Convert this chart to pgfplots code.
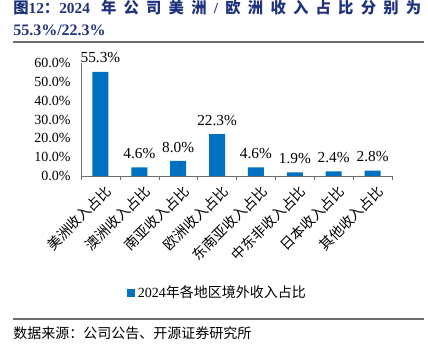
\documentclass[border=0pt]{standalone}
\usepackage{fontspec}
\setmainfont{Liberation Serif}
\newfontfamily\cjk{Noto Sans CJK SC}
\usepackage{pgfplots}
\pgfplotsset{compat=1.18}
\definecolor{barblue}{HTML}{0070C0}
\definecolor{titleblue}{RGB}{30,50,125}
\definecolor{axgray}{RGB}{110,110,110}
\newcommand{\cb}[1]{{\cjk\bfseries #1}}
\begin{document}
\begin{tikzpicture}
\path[use as bounding box] (0,0) rectangle (321pt,263.25pt);
% title
\node[anchor=west,inner sep=0pt,text=titleblue,font=\fontsize{11.5}{13}\selectfont\bfseries] at (9.75pt,257.25pt)
 {\makebox[306pt][s]{\cb{图}12\cb{：}2024\hfil\ \cb{年}\hfil\cb{公}\hfil\cb{司}\hfil\cb{美}\hfil\cb{洲}\hfil/\hfil\cb{欧}\hfil\cb{洲}\hfil\cb{收}\hfil\cb{入}\hfil\cb{占}\hfil\cb{比}\hfil\cb{分}\hfil\cb{别}\hfil\cb{为}}};
\node[anchor=west,inner sep=0pt,text=titleblue,font=\fontsize{12}{14}\selectfont\bfseries] at (9.75pt,240.75pt) {55.3\%/22.3\%};
\draw[axgray,line width=1.1pt] (9.75pt,231.75pt) -- (318pt,231.75pt);
\draw[axgray,line width=1.1pt] (9.75pt,24pt) -- (318pt,24pt);
\node[anchor=west,inner sep=0pt,font=\cjk\fontsize{10.5}{12}\selectfont] at (9.75pt,13.5pt) {数据来源：公司公告、开源证券研究所};
\begin{axis}[
  at={(60.75pt,131.25pt)}, anchor=south west,
  scale only axis, width=233.25pt, height=84.75pt,
  xmin=-0.5, xmax=7.5, ymin=0, ymax=60,
  axis x line*=bottom, axis y line*=left,
  axis line style={axgray,-},
  ybar, bar width=12pt,
  xtick={0,...,7},
  xticklabels={美洲收入占比,澳洲收入占比,南亚收入占比,欧洲收入占比,东南亚收入占比,中东非收入占比,日本收入占比,其他收入占比},
  xticklabel style={font=\cjk\fontsize{10.5}{12}\selectfont,rotate=45,anchor=east,inner sep=0pt,xshift=1pt,yshift=-8pt},
  major x tick style={draw=none},
  minor xtick={-0.5,0.5,...,7.5},
  minor tick length=3pt,
  minor x tick style={axgray},
  tick align=outside,
  ytick={0,10,...,60},
  major y tick style={draw=none},
  yticklabel={\pgfmathprintnumber[fixed,fixed zerofill,precision=1]{\tick}\%},
  /pgf/number format/assume math mode=true,
  yticklabel style={font=\fontsize{10.5}{12}\selectfont},
  nodes near coords={\pgfmathprintnumber[fixed,fixed zerofill,precision=1]{\pgfplotspointmeta}\%},
  nodes near coords style={font=\fontsize{11.5}{13}\selectfont,yshift=3pt},
  clip=false,
  legend style={at={(0.44,-1.035)},anchor=center,draw=none,font=\fontsize{10.5}{12}\selectfont,inner sep=0pt},
  legend image code/.code={\fill[barblue] (0pt,-3pt) rectangle (6pt,3pt);},
]
\addplot[fill=barblue,draw=none] coordinates {(0,55.3) (1,4.6) (2,8.0) (3,22.3) (4,4.6) (5,1.9) (6,2.4) (7,2.8)};
\addlegendentry{2024{\cjk 年各地区境外收入占比}}
\end{axis}
\end{tikzpicture}
\end{document}
